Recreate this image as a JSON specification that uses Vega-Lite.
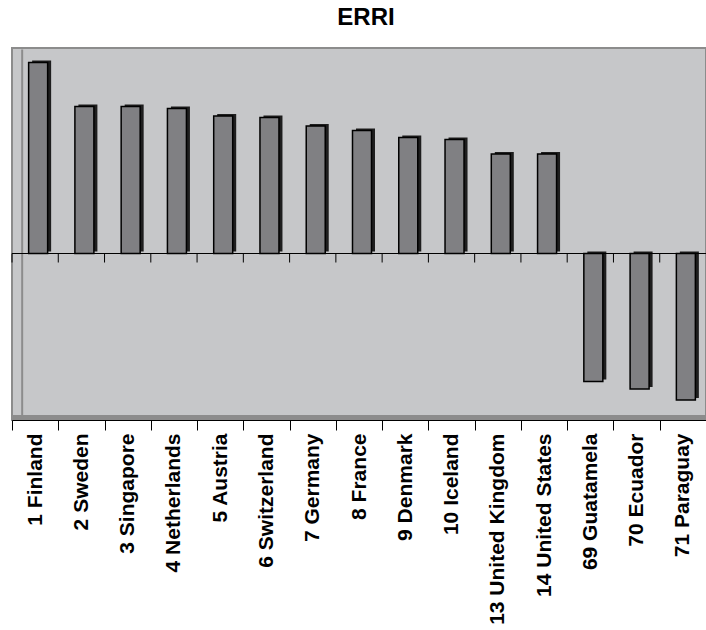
{
  "$schema": "https://vega.github.io/schema/vega-lite/v6.json",
  "autosize": {"type": "none"},
  "width": 694,
  "height": 372,
  "padding": {"left": 12, "top": 48, "right": 0, "bottom": 210},
  "background": "white",
  "title": {
    "text": "ERRI",
    "font": "Liberation Sans",
    "fontSize": 24,
    "fontWeight": "bold",
    "color": "black",
    "anchor": "middle",
    "dx": 7,
    "offset": 18
  },
  "config": {
    "view": {"fill": "#C6C7C9", "stroke": "#8C8C8C", "strokeWidth": 2}
  },
  "data": {
    "values": [
      {"country": "1 Finland", "erri": 1.91},
      {"country": "2 Sweden", "erri": 1.47},
      {"country": "3 Singapore", "erri": 1.47},
      {"country": "4 Netherlands", "erri": 1.45},
      {"country": "5 Austria", "erri": 1.375},
      {"country": "6 Switzerland", "erri": 1.36},
      {"country": "7 Germany", "erri": 1.275},
      {"country": "8 France", "erri": 1.23},
      {"country": "9 Denmark", "erri": 1.16},
      {"country": "10 Iceland", "erri": 1.14},
      {"country": "13 United Kingdom", "erri": 0.995},
      {"country": "14 United States", "erri": 0.995},
      {"country": "69 Guatamela", "erri": -1.28},
      {"country": "70 Ecuador", "erri": -1.355},
      {"country": "71 Paraguay", "erri": -1.465}
    ]
  },
  "layer": [
    {
      "mark": {"type": "bar", "size": 19, "xOffset": 6.5, "yOffset": -2, "color": "#1E1E1E"},
      "encoding": {
        "x": {
          "field": "country",
          "type": "nominal",
          "sort": null,
          "scale": {"paddingInner": 0, "paddingOuter": 0},
          "axis": {
            "title": null,
            "orient": "bottom",
            "labelAngle": -90,
            "labelAlign": "right",
            "labelBaseline": "middle",
            "labelFont": "Liberation Sans",
            "labelFontSize": 21,
            "labelFontWeight": "bold",
            "labelColor": "black",
            "labelPadding": 3,
            "labelLimit": 400,
            "labelOverlap": false,
            "tickBand": "extent",
            "tickSize": 10,
            "tickColor": "black",
            "domainColor": "black",
            "grid": false
          }
        },
        "y": {
          "field": "erri",
          "type": "quantitative",
          "scale": {"domain": [-1.665, 2.055], "nice": false, "zero": false},
          "axis": null
        }
      }
    },
    {
      "mark": {"type": "bar", "size": 19, "xOffset": 3, "color": "#808083", "stroke": "black", "strokeWidth": 1.5},
      "encoding": {
        "x": {"field": "country", "type": "nominal", "sort": null},
        "y": {"field": "erri", "type": "quantitative"}
      }
    },
    {
      "mark": {"type": "rule", "color": "#8C8C8C", "strokeWidth": 4},
      "encoding": {
        "y": {"datum": -1.64, "type": "quantitative"}
      }
    },
    {
      "mark": {"type": "rule", "color": "#8C8C8C", "strokeWidth": 2},
      "transform": [{"filter": "datum.country === '1 Finland'"}],
      "encoding": {
        "x": {"field": "country", "type": "nominal", "sort": null, "bandPosition": 0.22},
        "y": {"datum": -1.63, "type": "quantitative"},
        "y2": {"datum": 2.04}
      }
    },
    {
      "mark": {"type": "rule", "color": "black", "strokeWidth": 1},
      "encoding": {
        "y": {"datum": 0, "type": "quantitative"}
      }
    },
    {
      "mark": {"type": "rule", "color": "black", "strokeWidth": 1},
      "encoding": {
        "x": {"field": "country", "type": "nominal", "sort": null, "bandPosition": 0},
        "y": {"datum": 0, "type": "quantitative"},
        "y2": {"datum": -0.09}
      }
    }
  ]
}
